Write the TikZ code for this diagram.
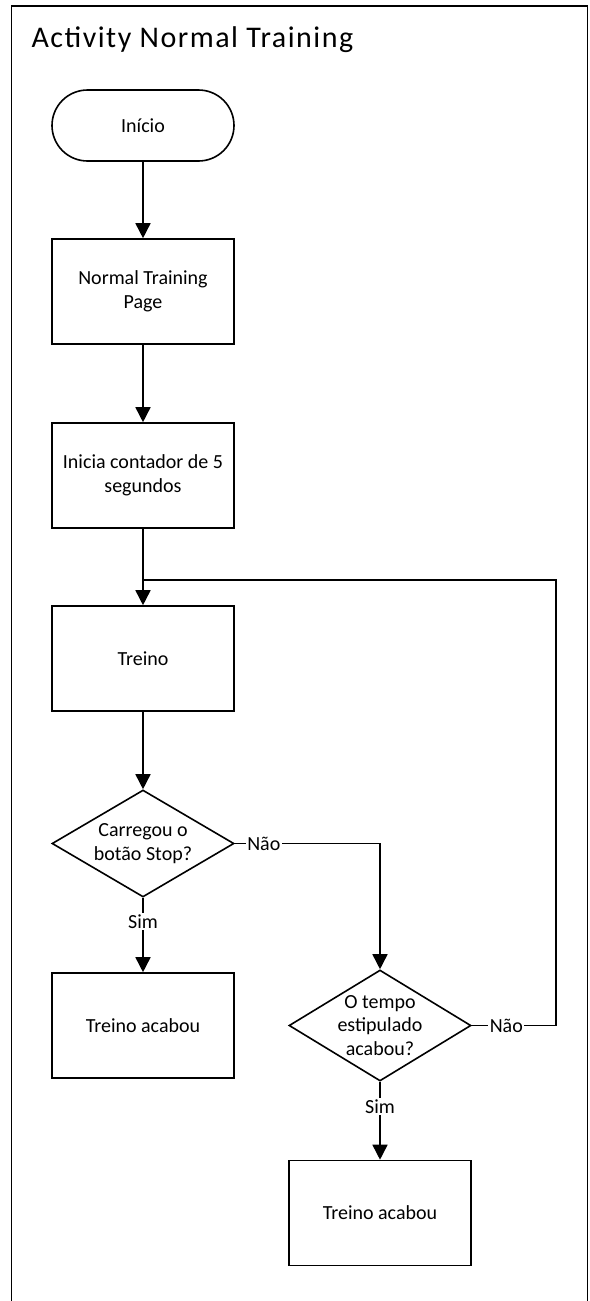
\documentclass[tikz,border=0pt]{standalone}
\usepackage{fontspec}
\setmainfont{Carlito}
\newfontfamily\titlefont[LetterSpace=5]{Carlito}
\usetikzlibrary{arrows.meta,shapes.geometric,shapes.misc,calc}
\begin{document}
\begin{tikzpicture}[x=1pt,y=-1pt,
  every node/.style={font=\fontsize{20}{23.5}\selectfont, text=black},
  stepbox/.style={draw, line width=1.6pt, minimum width=182pt, minimum height=105pt,
    inner sep=0pt, align=center},
  terminal/.style={draw, rounded rectangle, line width=1.6pt, minimum width=182pt,
    minimum height=71pt, inner sep=0pt},
  decision/.style={draw, diamond, line width=1.6pt, minimum width=182pt,
    minimum height=#1, inner sep=0pt},
  dtext/.style={align=center, font=\fontsize{20}{23.5}\selectfont},
  flow/.style={line width=1.6pt, -{Triangle[width=15pt,length=15pt]}},
  plain/.style={line width=1.6pt},
  lbl/.style={fill=white, inner sep=1.5pt}]
\useasboundingbox (0,0) rectangle (589,1301);

% activity frame (open at the bottom)
\draw[line width=1.6pt] (11.5,1301) -- (11.5,6) -- (587.5,6) -- (587.5,1301);
\node[anchor=base west, font=\titlefont\fontsize{30}{36}\selectfont] (title) at (28,47)
  {Activity Normal Training};

% nodes
\node[terminal] (start) at (143,125.5) {Início};
\node[stepbox] (page) at (143,291.5) {Normal Training\\Page};
\node[stepbox] (timer) at (143,475.5) {Inicia contador de 5\\segundos};
\node[stepbox] (treino) at (143,658.5) {Treino};
\node[decision=107pt, label={[dtext]center:Carregou o\\botão Stop?}] (stop) at (143,843.5) {};
\node[stepbox] (end1) at (143,1025.5) {Treino acabou};
\node[decision=111pt, label={[dtext]center:O tempo\\estipulado\\acabou?}] (tempo) at (380,1025.5) {};
\node[stepbox] (end2) at (380,1213) {Treino acabou};

% connectors
\draw[flow] (start) -- (page);
\draw[flow] (page) -- (timer);
\draw[flow] (timer) -- (treino);
\draw[flow] (treino) -- (stop);
\draw[flow] (stop) -- node[lbl, pos=0.32] {Sim} (end1);
\draw[flow] (stop.east) -- node[lbl, pos=0.2] {Não} (stop.east -| tempo.north) -- (tempo.north);
\draw[flow] (tempo) -- node[lbl, pos=0.32] {Sim} (end2);

% loop back to the training step
\coordinate (loopR) at (556,580);
\coordinate (join) at (treino.north |- loopR);
\draw[plain] (tempo.east) -- node[lbl, pos=0.41] {Não} (tempo.east -| loopR) -- (loopR) -- (join);
\end{tikzpicture}
\end{document}
